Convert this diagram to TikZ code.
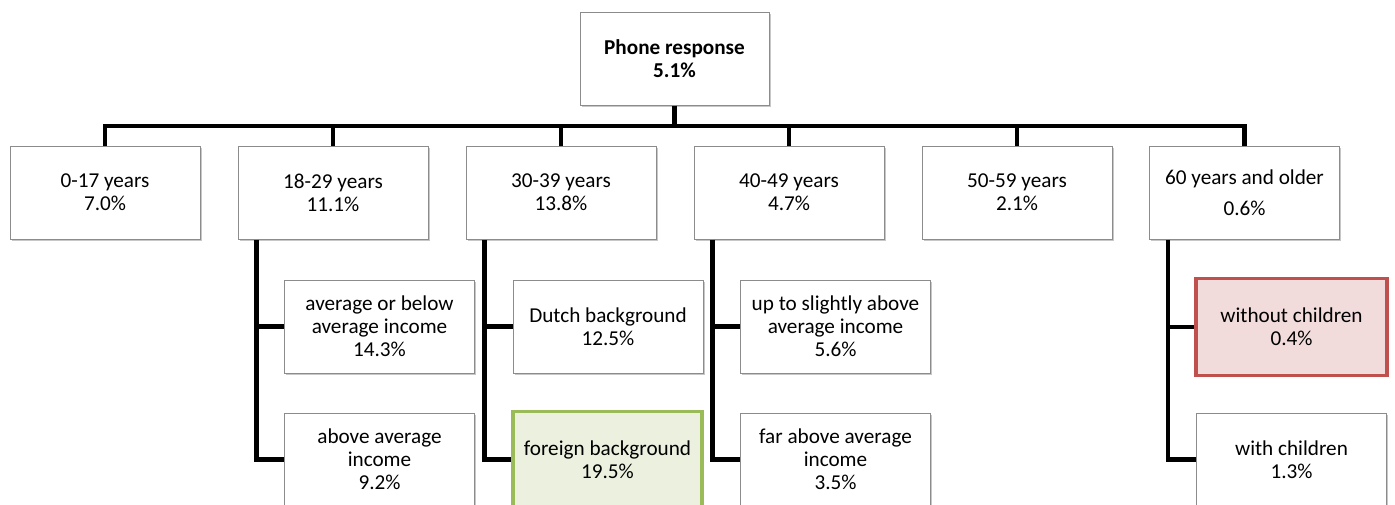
\documentclass[tikz,border=0pt]{standalone}
\usepackage{fontspec}
\setmainfont{Carlito}
\usetikzlibrary{shadows,calc}
\definecolor{boxgray}{HTML}{8C8C8C}
\definecolor{greenedge}{HTML}{9BBB59}
\definecolor{greenfill}{HTML}{EBF1DE}
\definecolor{rededge}{HTML}{C0504D}
\definecolor{redfill}{HTML}{F2DCDB}
\begin{document}
\begin{tikzpicture}[x=0.5pt,y=-0.5pt,
  box/.style={draw=boxgray, line width=0.5pt, fill=white, minimum width=95pt, minimum height=46.5pt,
    inner sep=0pt, align=center, font=\fontsize{10.6}{11.6}\selectfont,
    drop shadow={shadow xshift=0.9pt, shadow yshift=-0.9pt, fill=black, opacity=0.22}},
  greenbox/.style={box, draw=greenedge, fill=greenfill, line width=1.9pt, minimum width=94.6pt, minimum height=48pt},
  redbox/.style={box, draw=rededge, fill=redfill, line width=1.9pt, minimum width=95.6pt, minimum height=48.5pt},
  conn/.style={line width=2.4pt, black}]
\useasboundingbox (0,0) rectangle (1395,504);
\clip (0,0) rectangle (1395,504);
% root
\node[box, minimum width=94.5pt, font=\fontsize{10.6}{11.8}\selectfont\bfseries] (root) at (674.5,58.5) {Phone response\\5.1\%};
% row 1
\node[box] (b1) at (105,192.5) {0-17 years\\7.0\%};
\node[box] (b2) at (333,192.5) {18-29 years\\11.1\%};
\node[box] (b3) at (561,192.5) {30-39 years\\13.8\%};
\node[box] (b4) at (789,192.5) {40-49 years\\4.7\%};
\node[box] (b5) at (1017,192.5) {50-59 years\\2.1\%};
\node[box] (b6) at (1244.5,192.5) {60 years and older\\[3.8pt]0.6\%};
% sub boxes
\node[box] (s2a) at (379.5,326.5) {average or below\\average income\\14.3\%};
\node[box] (s2b) at (379.5,459.5) {above average\\income\\9.2\%};
\node[box] (s3a) at (608,326.5) {Dutch background\\12.5\%};
\node[greenbox] (s3b) at (607.5,459.5) {foreign background\\19.5\%};
\node[box] (s4a) at (835.5,326.5) {up to slightly above\\average income\\5.6\%};
\node[box] (s4b) at (835.5,459.5) {far above average\\income\\3.5\%};
\node[redbox] (s6a) at (1291.5,327) {without children\\0.4\%};
\node[box] (s6b) at (1291.5,459.5) {with children\\1.3\%};
% bus
\coordinate (bus) at (674.5,126);
\draw[conn] (root.south) -- (root.south |- bus);
\draw[conn] (b1.north) -- (b1.north |- bus) -- (b6.north |- bus) -- (b6.north);
\foreach \b in {b2,b3,b4,b5}{\draw[conn] (\b.north) -- (\b.north |- bus);}
\foreach \p/\a/\c in {b2/s2a/s2b, b3/s3a/s3b, b4/s4a/s4b, b6/s6a/s6b}{
  \coordinate (v\p) at ($(\p.south west)+(19,0)$);
  \draw[conn] (v\p) |- (\c.west);
  \draw[conn] (\a.west -| v\p) -- (\a.west);
}
\end{tikzpicture}
\end{document}
